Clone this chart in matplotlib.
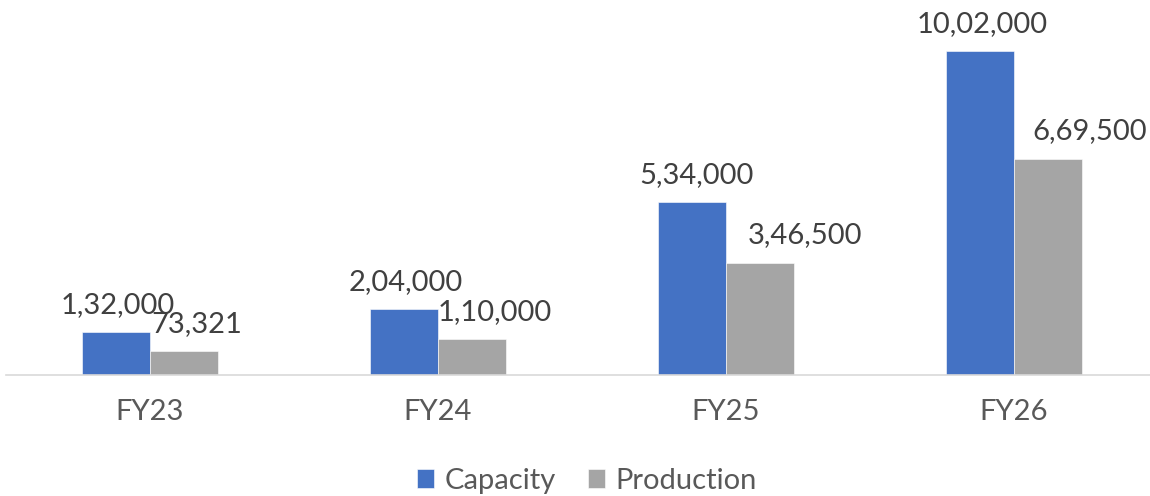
import matplotlib
matplotlib.use("Agg")
import matplotlib.pyplot as plt
import numpy as np

categories = ["FY23", "FY24", "FY25", "FY26"]
capacity = [132000, 204000, 534000, 1002000]
production = [73321, 110000, 346500, 669500]
capacity_labels = ["1,32,000", "2,04,000", "5,34,000", "10,02,000"]
production_labels = ["73,321", "1,10,000", "3,46,500", "6,69,500"]
series_names = ["Capacity", "Production"]

plt.rcParams['font.family'] = ['Lato', 'DejaVu Sans']

W, H = 1150, 496
fig = plt.figure(figsize=(W / 100, H / 100), dpi=100)
ax = fig.add_axes([6 / W, (H - 375) / H, 1144 / W, 375 / H])

x = np.arange(len(categories))
bw = 0.237
b1 = ax.bar(x - bw / 2, capacity, bw, color="#4472C4", label=series_names[0],
            edgecolor="white", linewidth=0.4)
b2 = ax.bar(x + bw / 2, production, bw, color="#A5A5A5", label=series_names[1],
            edgecolor="white", linewidth=0.4)

FS = 21
# label nudges (points) as placed in the reference
cap_dx = [1, 1, 3, 2]
prod_dx = [9, 16, 32, 30]
for bars, labels, dxs in ((b1, capacity_labels, cap_dx), (b2, production_labels, prod_dx)):
    for rect, lab, dx in zip(bars, labels, dxs):
        ax.annotate(lab, (rect.get_x() + rect.get_width() / 2, rect.get_height()),
                    xytext=(dx, 14), textcoords="offset points",
                    ha="center", va="baseline", fontsize=FS, color="#404040")

ax.set_xlim(-0.5, 3.5 - 8 / 288)
ax.set_ylim(0, 1160000)
ax.set_yticks([])
ax.set_xticks(x)
ax.set_xticklabels(categories, fontsize=FS, color="#595959")
ax.tick_params(axis="x", length=0, pad=17)
for s in ["top", "left", "right"]:
    ax.spines[s].set_visible(False)
ax.spines["bottom"].set_color("#D9D9D9")
ax.spines["bottom"].set_linewidth(1.2)
ax.patch.set_alpha(0)

leg = fig.legend(handles=[b1, b2], labels=series_names, loc="center",
                 bbox_to_anchor=(587 / W, 1 - 481 / H), ncol=2, frameon=False,
                 fontsize=FS, handlelength=0.6, handleheight=0.6,
                 handletextpad=0.35, columnspacing=1.1)
for t in leg.get_texts():
    t.set_color("#595959")

fig.savefig("out.png", dpi=100)
